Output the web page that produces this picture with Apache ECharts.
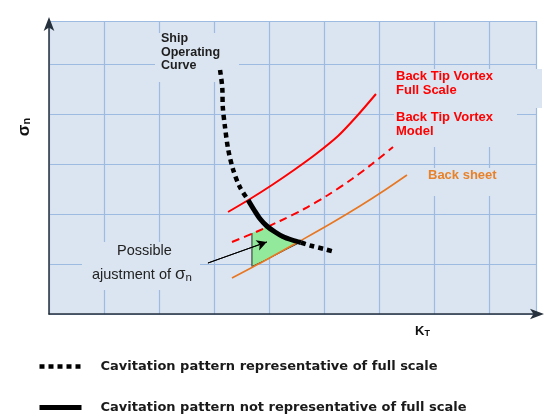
<!DOCTYPE html>
<html><head><meta charset="utf-8">
<script src="https://cdn.jsdelivr.net/npm/echarts/dist/echarts.min.js"></script>
<style>html,body{margin:0;padding:0;background:#fff}#c{width:551px;height:416px}</style>
</head><body><div id="c"></div>
<script>
// ---- data (KT on x, sigma_n on y; arbitrary units, one grid cell = 1) ----
const shipRepUpper = [[3.11,4.88],[3.15,4.54],[3.16,4.14],[3.20,3.74],[3.26,3.28],[3.35,2.88],[3.47,2.54],[3.62,2.28]];
const shipNotRep   = [[3.62,2.28],[3.73,2.08],[3.84,1.90],[3.96,1.76],[4.11,1.64],[4.25,1.55],[4.42,1.48],[4.58,1.43]];
const shipRepLower = [[4.58,1.43],[4.75,1.37],[5.00,1.30],[5.20,1.24]];
const tipVortexFull  = [[3.255,2.04],[3.655,2.30],[4.055,2.58],[4.455,2.88],[4.855,3.20],[5.255,3.56],[5.60,3.96],[5.945,4.40]];
const tipVortexModel = [[3.327,1.44],[3.764,1.64],[4.20,1.86],[4.636,2.10],[5.073,2.38],[5.509,2.70],[5.873,3.00],[6.255,3.34]];
const backSheet      = [[3.327,0.72],[3.945,1.08],[4.564,1.46],[5.109,1.80],[5.655,2.16],[6.109,2.48],[6.509,2.78]];
const adjustZone     = [[3.69,1.62],[3.95,1.74],[4.11,1.63],[4.25,1.55],[4.42,1.48],[4.58,1.44],[4.29,1.28],[3.98,1.10],[3.69,0.95]];
const adjustZoneEdge = [[4.58,1.44],[4.29,1.28],[3.98,1.10],[3.69,0.95],[3.69,1.62]];
const adjustArrow    = [[2.89,1.02],[3.96,1.44]];
const xMax = 8.855, yMax = 5.86;

const LEG1 = 'Cavitation pattern representative of full scale';
const LEG2 = 'Cavitation pattern not representative of full scale';
const BG = '#dbe5f1';
const AX = '#26313d';
const FONT = 'Liberation Sans';

const chart = echarts.init(document.getElementById('c'), null, {renderer:'canvas'});
const option = {
  animation:false,
  grid:{left:49, top:21, right:15, bottom:102, show:true, backgroundColor:BG, borderWidth:0},
  xAxis:{type:'value', min:0, max:xMax, interval:1,
    axisLine:{show:true, lineStyle:{color:AX, width:1.5}, symbol:['none','arrow'], symbolSize:[8,14], symbolOffset:[0,8]},
    axisTick:{show:false}, axisLabel:{show:false},
    splitLine:{show:true, lineStyle:{color:'#9dbae0', width:1.2}}},
  yAxis:{type:'value', min:0, max:yMax, interval:1,
    axisLine:{show:true, lineStyle:{color:AX, width:1.5}, symbol:['none','arrow'], symbolSize:[8,14], symbolOffset:[0,4]},
    axisTick:{show:false}, axisLabel:{show:false},
    splitLine:{show:true, lineStyle:{color:'#9dbae0', width:1.2}}},
  legend:{
    data:[
      {name:LEG1, lineStyle:{width:4.5}, itemStyle:{color:'rgba(0,0,0,0)', borderWidth:0}},
      {name:LEG2, lineStyle:{width:5}, itemStyle:{color:'rgba(0,0,0,0)', borderWidth:0}}
    ],
    orient:'vertical', left:37, top:360, height:70, padding:0, itemWidth:42, itemHeight:14, itemGap:28,
    selectedMode:false,
    textStyle:{fontFamily:'DejaVu Sans', fontWeight:'bold', fontSize:13, color:'#1a1a1a', padding:[0,0,8,14]}},
  graphic:[
    {type:'rect', z:1, shape:{x:155, y:33, width:84, height:49}, style:{fill:BG}},
    {type:'rect', z:1, shape:{x:392, y:69, width:150, height:39}, style:{fill:BG}},
    {type:'rect', z:1, shape:{x:394, y:108, width:123, height:39}, style:{fill:BG}},
    {type:'rect', z:1, shape:{x:424, y:168, width:80, height:28}, style:{fill:BG}},
    {type:'rect', z:1, shape:{x:82, y:242, width:118, height:48}, style:{fill:BG}},
    {type:'text', z:5, left:161, top:32, style:{text:'Ship\nOperating\nCurve', fontFamily:FONT, fontWeight:'bold', fontSize:12.5, lineHeight:13.5, fill:'#1e1e1e'}},
    {type:'text', z:5, left:396, top:69, style:{text:'Back Tip Vortex\nFull Scale', fontFamily:FONT, fontWeight:'bold', fontSize:13, lineHeight:14.5, fill:'#ff0000'}},
    {type:'text', z:5, left:396, top:110, style:{text:'Back Tip Vortex\nModel', fontFamily:FONT, fontWeight:'bold', fontSize:13, lineHeight:14.5, fill:'#ff0000'}},
    {type:'text', z:5, left:428, top:169, style:{text:'Back sheet', fontFamily:FONT, fontWeight:'bold', fontSize:13, fill:'#e8822a'}},
    {type:'text', z:5, left:117, top:243, style:{text:'Possible', fontFamily:FONT, fontSize:14.5, fill:'#222'}},
    {type:'text', z:5, left:92, top:266, style:{text:'ajustment of {s|σ}{n|n}', fontFamily:FONT, fontSize:14.5, fill:'#222',
      rich:{s:{fontFamily:FONT, fontSize:17, fill:'#222'}, n:{fontFamily:FONT, fontSize:11.5, fill:'#222', padding:[7,0,0,0]}}}},
    {type:'text', z:5, x:24, y:127, rotation:Math.PI/2, style:{text:'{s|σ}{n|n}', align:'center', verticalAlign:'middle',
      rich:{s:{fontFamily:FONT, fontWeight:'bold', fontSize:17, fill:'#111'}, n:{fontFamily:FONT, fontWeight:'bold', fontSize:11, fill:'#111', padding:[6,0,0,0]}}}},
    {type:'text', z:5, left:415, top:325, style:{text:'{k|K}{t|T}',
      rich:{k:{fontFamily:FONT, fontWeight:'bold', fontSize:13, fill:'#111'}, t:{fontFamily:FONT, fontWeight:'bold', fontSize:9, fill:'#111', padding:[4,0,0,0]}}}}
  ],
  series:[
    {type:'custom', z:1, silent:true, data:[[0,0]],
      renderItem:(params, api)=>({type:'polygon', shape:{points:adjustZone.map(p=>api.coord(p))}, style:{fill:'#92e99b'}})},
    {type:'line', name:'zoneEdge', z:1, data:adjustZoneEdge, symbol:'none', silent:true, lineStyle:{color:'#2a2a2a', width:1}},
    {type:'line', name:'Back sheet', data:backSheet, smooth:0.3, symbol:'none', lineStyle:{color:'#e87722', width:1.6}},
    {type:'line', name:'Back Tip Vortex Model', data:tipVortexModel, smooth:0.3, symbol:'none', lineStyle:{color:'#ff0000', width:2, type:[8,5]}},
    {type:'line', name:'Back Tip Vortex Full Scale', data:tipVortexFull, smooth:0.3, symbol:'none', lineStyle:{color:'#ff0000', width:2}},
    {type:'line', name:'arrow', data:adjustArrow, symbol:'none', silent:true, lineStyle:{color:'#000', width:1},
      markLine:{silent:true, symbol:['none','arrow'], symbolSize:[8,10], label:{show:false},
        lineStyle:{color:'#000', width:1, type:'solid'}, data:[[{coord:adjustArrow[0]},{coord:adjustArrow[1]}]]}},
    {type:'line', name:LEG1, z:4, data:shipRepUpper, smooth:0.3, symbol:'none', color:'#000', lineStyle:{color:'#000', width:4.5, type:[5,4], cap:'butt'}},
    {type:'line', name:LEG2, z:4, data:shipNotRep, smooth:0.3, symbol:'none', color:'#000', lineStyle:{color:'#000', width:5, cap:'butt'}},
    {type:'line', name:LEG1, z:4, data:shipRepLower, smooth:0.3, symbol:'none', color:'#000', lineStyle:{color:'#000', width:4.5, type:[5,4], cap:'butt'}}
  ]
};
chart.setOption(option);
</script></body></html>
